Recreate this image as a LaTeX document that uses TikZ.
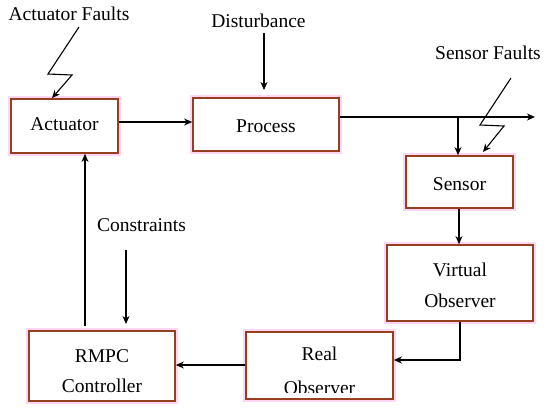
\documentclass[tikz,border=0pt]{standalone}
\usepackage{fontspec}
\setmainfont{Liberation Serif}
\usetikzlibrary{arrows.meta}
\definecolor{boxred}{RGB}{150,62,32}
\definecolor{halo}{RGB}{255,215,245}
\begin{document}
\begin{tikzpicture}[x=1pt,y=-1pt,
  font=\fontsize{19.5}{22}\selectfont,
  blk/.style={draw=boxred, line width=1.7pt, fill=white, inner sep=0pt,
    preaction={draw=halo, line width=6pt}},
  txt/.style={inner sep=0pt, anchor=base},
  arr/.style={-{Stealth[length=8pt,width=7pt,inset=2.5pt]}, line width=1.1pt}]
\useasboundingbox (0,0) rectangle (550,408);
\fill[white] (0,0) rectangle (550,408);

% boxes
\node[blk, minimum width=107pt, minimum height=54pt] (act)  at (64.5,126) {};
\node[blk, minimum width=146pt, minimum height=53pt] (proc) at (266,124.5) {};
\node[blk, minimum width=107pt, minimum height=52pt] (sens) at (459.5,182) {};
\node[blk, minimum width=146pt, minimum height=76pt] (vo)   at (460,283) {};
\node[blk, minimum width=147pt, minimum height=67pt] (real) at (319.5,365.5) {};
\node[blk, minimum width=146pt, minimum height=70pt] (rmpc) at (102,366) {};

% box texts
\node[txt] (tact)  at (64.5,130) {Actuator};
\node[txt] (tproc) at (266,132) {Process};
\node[txt] (tsens) at (459.5,190) {Sensor};
\node[txt] (tvo1)  at (460,276) {Virtual};
\node[txt] (tvo2)  at (460,307) {Observer};
\node[txt] (treal1) at (319.5,360) {Real};
\begin{scope}
  \clip (246,370) rectangle (393,392);
  \node[txt] (treal2) at (319.5,394) {Observer};
\end{scope}
\node[txt] (trm1) at (102,362) {RMPC};
\node[txt] (trm2) at (102,392) {Controller};

% free labels
\node[txt] (laf)  at (69,20)  {Actuator Faults};
\node[txt] (ldis) at (258.5,27) {Disturbance};
\node[txt] (lsf)  at (488,59) {Sensor Faults};
\node[txt] (lcon) at (141.5,231) {Constraints};

% coordinates
\coordinate (outend) at (535,117);
\coordinate (branch) at (458,117);
\coordinate (af1) at (79,27);
\coordinate (af2) at (48,74);
\coordinate (af3) at (72,75);
\coordinate (sf1) at (511,78);
\coordinate (sf2) at (480,125);
\coordinate (sf3) at (504,126);
\coordinate (dis0) at (264,33);
\coordinate (dis1) at (264,90);
\coordinate (con0) at (126,250);
\coordinate (con1) at (126,324);
\coordinate (fb0) at (85,326);
\coordinate (vocorner) at (460,360);

% connectors
\draw[arr] (act.east |- 0,122) -- (proc.west |- 0,122);
\draw[arr] (proc.east |- outend) -- (outend);
\draw[arr] (branch) -- (sens.north -| branch);
\draw[arr] (af1) -- (af2) -- (af3) -- (act.north -| 52,0);
\draw[arr] (sf1) -- (sf2) -- (sf3) -- (483,152);
\draw[arr] (dis0) -- (dis1);
\draw[arr] (sens.south -| 459,0) -- (vo.north -| 459,0);
\draw[arr] (vo.south -| vocorner) -- (vocorner) -- (real.east |- vocorner);
\draw[arr] (real.west |- 0,365) -- (rmpc.east |- 0,365);
\draw[arr] (fb0) -- (act.south -| fb0);
\draw[arr] (con0) -- (con1);
\end{tikzpicture}
\end{document}
